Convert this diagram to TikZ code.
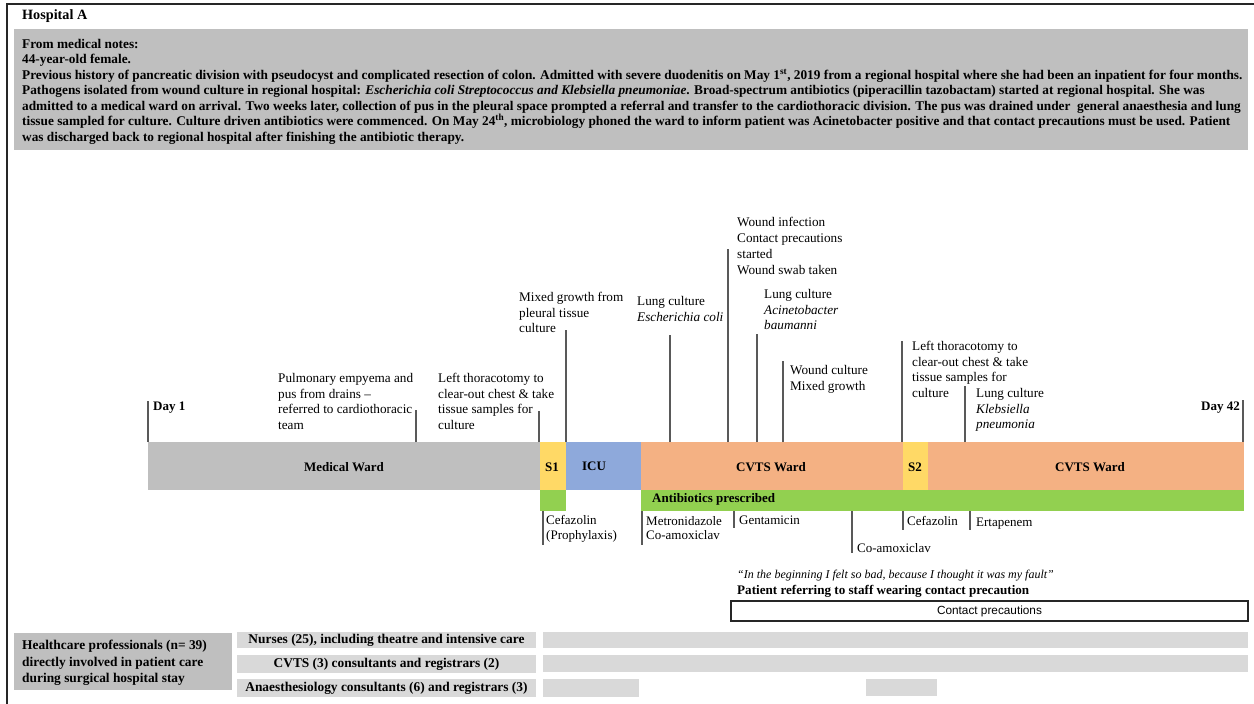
\documentclass[tikz,border=0pt]{standalone}
\usepackage{fontspec}
\setmainfont{Liberation Serif}
\newfontfamily\arialf{Liberation Sans}
\definecolor{boxgrey}{HTML}{BFBFBF}
\definecolor{lightgrey}{HTML}{D9D9D9}
\definecolor{syellow}{HTML}{FFD966}
\definecolor{icublue}{HTML}{8EA9DB}
\definecolor{cvtsorange}{HTML}{F4B183}
\definecolor{abgreen}{HTML}{92D050}
\begin{document}
\begin{tikzpicture}[x=1pt,y=-1pt,
  frameline/.style={line width=2pt, draw=black!85},
  tk/.style={draw=black!65, line width=1.1pt},
  lab/.style={anchor=north west, inner sep=0pt, align=left, font=\fontsize{13.2}{15.7}\selectfont},
  blab/.style={inner sep=0pt, font=\bfseries\fontsize{13}{15}\selectfont},
  seg/.style={draw=none, inner sep=0pt, anchor=north west, outer sep=0pt},
  rowlab/.style={seg, fill=lightgrey, minimum width=299, font=\bfseries\fontsize{13.4}{15}\selectfont},
  rowbar/.style={seg, fill=lightgrey},
]
\useasboundingbox (0,0) rectangle (1254,704);
% frame
\coordinate (fa) at (7,704);
\coordinate (fb) at (7,4);
\coordinate (fc) at (1254,4);
\draw[frameline] (fa) -- (fb) -- (fc);

\node[anchor=north west, inner sep=0pt, font=\bfseries\fontsize{14.2}{16}\selectfont] (hosp) at (22,9) {Hospital A};

\node[seg, fill=boxgrey, minimum width=1234, minimum height=121] (notesbox) at (14,29) {};
\node[anchor=north west, inner sep=0pt, align=left, font=\bfseries\fontsize{13.3}{15.5}\selectfont] (notes) at (22,39) {%
From medical notes:\\
44-year-old female.\\
Previous history of pancreatic division with pseudocyst and complicated resection of colon. Admitted with severe duodenitis on May 1\textsuperscript{st}, 2019 from a regional hospital where she had been an inpatient for four months.\\
Pathogens isolated from wound culture in regional hospital: \textit{Escherichia coli Streptococcus and Klebsiella pneumoniae}. Broad-spectrum antibiotics (piperacillin tazobactam) started at regional hospital. She was\\
admitted to a medical ward on arrival. Two weeks later, collection of pus in the pleural space prompted a referral and transfer to the cardiothoracic division. The pus was drained under\ \ general anaesthesia and lung\\
tissue sampled for culture. Culture driven antibiotics were commenced. On May 24\textsuperscript{th}, microbiology phoned the ward to inform patient was Acinetobacter positive and that contact precautions must be used. Patient\\
was discharged back to regional hospital after finishing the antibiotic therapy.};

% timeline bar
\node[seg, fill=boxgrey, minimum width=392, minimum height=48] (mw) at (148,442) {};
\node[seg, fill=syellow, minimum width=26, minimum height=48] (s1) at (540,442) {};
\node[seg, fill=icublue, minimum width=75, minimum height=48] (icu) at (566,442) {};
\node[seg, fill=cvtsorange, minimum width=262, minimum height=48] (cv1) at (641,442) {};
\node[seg, fill=syellow, minimum width=25, minimum height=48] (s2) at (903,442) {};
\node[seg, fill=cvtsorange, minimum width=316, minimum height=48] (cv2) at (928,442) {};
\node[blab] (mwt) at (344,467) {Medical Ward};
\node[blab] (s1t) at (552,467) {S1};
\node[blab] (icut) at (594,466) {ICU};
\node[blab] (cv1t) at (771,467) {CVTS Ward};
\node[blab] (s2t) at (915,467) {S2};
\node[blab] (cv2t) at (1090,467) {CVTS Ward};

% antibiotics strip
\node[seg, fill=abgreen, minimum width=26, minimum height=21] (g1) at (540,490) {};
\node[seg, fill=abgreen, minimum width=603, minimum height=21] (g2) at (641,490) {};
\node[blab, anchor=west] (abt) at (652,499) {Antibiotics prescribed};

% day markers
\coordinate (d1b) at (148,442); \coordinate (d1t) at (148,401);
\draw[tk] (d1b) -- (d1t);
\node[blab, anchor=north west] (d1) at (153,402) {Day 1};
\coordinate (d42b) at (1243,442); \coordinate (d42t) at (1243,400);
\draw[tk] (d42b) -- (d42t);
\node[blab, anchor=north east] (d42) at (1240,402) {Day 42};

% events above
\coordinate (e1b) at (416,442); \coordinate (e1t) at (416,410);
\draw[tk] (e1b) -- (e1t);
\node[lab] (e1) at (278,373) {Pulmonary empyema and\\pus from drains --\\referred to cardiothoracic\\team};

\coordinate (e2b) at (539,442); \coordinate (e2t) at (539,411);
\draw[tk] (e2b) -- (e2t);
\node[lab] (e2) at (438,373) {Left thoracotomy to\\clear-out chest \& take\\tissue samples for\\culture};

\coordinate (e3b) at (566,442); \coordinate (e3t) at (566,330);
\draw[tk] (e3b) -- (e3t);
\node[lab] (e3) at (519,292) {Mixed growth from\\pleural tissue\\culture};

\coordinate (e4b) at (670,442); \coordinate (e4t) at (670,335);
\draw[tk] (e4b) -- (e4t);
\node[lab] (e4) at (637,296) {Lung culture\\\textit{Escherichia coli}};

\coordinate (e5b) at (728,442); \coordinate (e5t) at (728,249);
\draw[tk] (e5b) -- (e5t);
\node[lab, font=\fontsize{13.2}{16}\selectfont] (e5) at (737,217) {Wound infection\\Contact precautions\\started\\Wound swab taken};

\coordinate (e6b) at (757,442); \coordinate (e6t) at (757,334);
\draw[tk] (e6b) -- (e6t);
\node[lab] (e6) at (764,289) {Lung culture\\\textit{Acinetobacter}\\\textit{baumanni}};

\coordinate (e7b) at (783,442); \coordinate (e7t) at (783,361);
\draw[tk] (e7b) -- (e7t);
\node[lab] (e7) at (790,365) {Wound culture\\Mixed growth};

\coordinate (e8b) at (902,442); \coordinate (e8t) at (902,341);
\draw[tk] (e8b) -- (e8t);
\node[lab] (e8) at (912,341) {Left thoracotomy to\\clear-out chest \& take\\tissue samples for\\culture};

\coordinate (e9b) at (965,442); \coordinate (e9t) at (965,386);
\draw[tk] (e9b) -- (e9t);
\node[lab] (e9) at (976,388) {Lung culture\\\textit{Klebsiella}\\\textit{pneumonia}};

% antibiotics below
\coordinate (a1t) at (543,511); \coordinate (a1b) at (543,545);
\draw[tk] (a1t) -- (a1b);
\node[lab, font=\fontsize{13}{15.5}\selectfont] (a1) at (546,515) {Cefazolin\\(Prophylaxis)};
\coordinate (a2t) at (642,511); \coordinate (a2b) at (642,545);
\draw[tk] (a2t) -- (a2b);
\node[lab, font=\fontsize{13}{14.5}\selectfont] (a2) at (646,516) {Metronidazole\\Co-amoxiclav};
\coordinate (a3t) at (734,511); \coordinate (a3b) at (734,528);
\draw[tk] (a3t) -- (a3b);
\node[lab, font=\fontsize{13}{15}\selectfont] (a3) at (739,516) {Gentamicin};
\coordinate (a4t) at (852,511); \coordinate (a4b) at (852,553);
\draw[tk] (a4t) -- (a4b);
\node[lab, font=\fontsize{13}{15}\selectfont] (a4) at (857,543) {Co-amoxiclav};
\coordinate (a5t) at (903,511); \coordinate (a5b) at (903,530);
\draw[tk] (a5t) -- (a5b);
\node[lab, font=\fontsize{13}{15}\selectfont] (a5) at (907,516) {Cefazolin};
\coordinate (a6t) at (970,511); \coordinate (a6b) at (970,530);
\draw[tk] (a6t) -- (a6b);
\node[lab, font=\fontsize{13}{15}\selectfont] (a6) at (976,518) {Ertapenem};

% quote and contact precautions
\node[anchor=north west, inner sep=0pt, font=\itshape\fontsize{12}{14}\selectfont] (quote) at (737,570) {\char"201C In the beginning I felt so bad, because I thought it was my fault\char"201D};
\node[anchor=north west, inner sep=0pt, font=\bfseries\fontsize{13.1}{15}\selectfont] (pref) at (737,585) {Patient referring to staff wearing contact precaution};
\node[seg, draw=black!85, line width=1.5pt, minimum width=517, minimum height=20, font=\arialf\fontsize{11.8}{13}\selectfont] (cp) at (731,601) {Contact precautions};

% healthcare professionals
\node[seg, fill=boxgrey, minimum width=218, minimum height=57] (hcbox) at (14,633) {};
\node[anchor=north west, inner sep=0pt, align=left, font=\bfseries\fontsize{13.4}{16.5}\selectfont] (hc) at (22,640) {Healthcare professionals (n= 39)\\directly involved in patient care\\during surgical hospital stay};

\node[rowlab, minimum height=16] (r1) at (237,632) {Nurses (25), including theatre and intensive care};
\node[rowlab, minimum height=18] (r2) at (237,655) {CVTS (3) consultants and registrars (2)};
\node[rowlab, minimum height=18] (r3) at (237,679) {Anaesthesiology consultants (6) and registrars (3)};
\node[rowbar, minimum width=705, minimum height=16] (b1) at (543,632) {};
\node[rowbar, minimum width=705, minimum height=17] (b2) at (543,655) {};
\node[rowbar, minimum width=96, minimum height=18] (b3a) at (543,679) {};
\node[rowbar, minimum width=71, minimum height=17] (b3b) at (866,679) {};
\end{tikzpicture}
\end{document}
